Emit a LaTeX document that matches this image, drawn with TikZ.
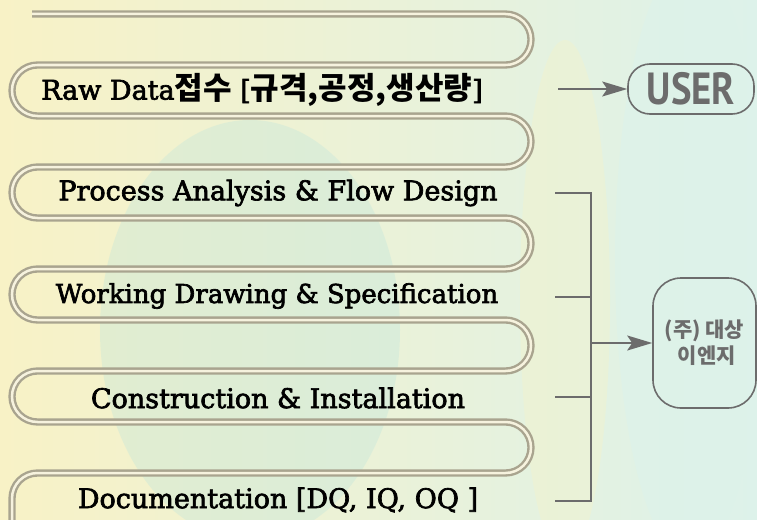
\documentclass[tikz,border=0pt]{standalone}
\usepackage{fontspec}
\setmainfont{DejaVu Serif}
\newfontfamily\stepfont[FakeBold=2.5]{DejaVu Serif}
\newfontfamily\krfont{Noto Sans CJK KR}
\newfontfamily\tagfont{PT Sans}
\usetikzlibrary{arrows.meta}
\definecolor{bgyellow}{HTML}{F8F2C6}
\definecolor{bgmint}{HTML}{DDF2EA}
\definecolor{bgcyan}{HTML}{BFE6DC}
\definecolor{ribbonshade}{HTML}{A9A48F}
\definecolor{ribbonlight}{HTML}{F6F2DE}
\definecolor{taggray}{HTML}{6C6C6C}
\tikzset{
  steptext/.style={font=\stepfont\fontsize{27}{30}\selectfont, text=black, inner sep=0pt},
  tagbox/.style={draw=taggray, line width=1.6pt, text=taggray, align=center, inner sep=0pt},
  link/.style={taggray, line width=1.8pt},
  linkarrow/.style={link, -{Stealth[length=25pt,width=15pt,inset=5pt]}}
}
\begin{document}
\begin{tikzpicture}[x=1pt,y=-1pt]
        \useasboundingbox (0,0) rectangle (757,519);
        \clip (0,0) rectangle (757,519);
        % background
        \shade[left color=bgyellow, right color=bgmint] (0,0) rectangle (757,519);
        \fill[bgcyan, opacity=.35] (250,330) ellipse (150pt and 210pt);
        \fill[bgyellow, opacity=.35] (565,300) ellipse (45pt and 260pt);
        \fill[bgmint, opacity=.7] (690,260) ellipse (75pt and 300pt);
        % ribbon
        \draw[draw=ribbonshade, double=ribbonlight, double distance=2.5pt, line width=2.4pt, rounded corners=25.5pt]
          (32,14) -- (531,14) -- (531,65) -- (12,65) -- (12,116) -- (531,116) -- (531,167)
          -- (12,167) -- (12,218) -- (531,218) -- (531,269) -- (12,269) -- (12,320)
          -- (531,320) -- (531,371) -- (12,371) -- (12,422) -- (531,422) -- (531,473)
          -- (12,473) -- (12,560);
        % steps
        \node[steptext] (raw) at (262,90) {Raw Data{\krfont\bfseries\fontsize{31}{32}\selectfont 접수} [{\krfont\bfseries\fontsize{31}{32}\selectfont 규격,공정,생산량}]};
        \node[steptext] (process) at (278,193) {Process Analysis \& Flow Design};
        \node[steptext, font=\stepfont\fontsize{26}{30}\selectfont] (working) at (277,296) {Working Drawing \& Specification};
        \node[steptext] (construct) at (278,398) {Construction \& Installation};
        \node[steptext] (docu) at (278,500) {Documentation [DQ, IQ, OQ ]};
        % targets
        \node[tagbox, rounded corners=22pt, minimum width=126pt, minimum height=50pt,
              font=\tagfont\bfseries\fontsize{45}{46}\selectfont] (user) at (691,89) {\scalebox{0.86}[1]{USER}};
        \node[tagbox, rounded corners=28pt, minimum width=103pt, minimum height=130pt,
              font=\krfont\bfseries\fontsize{21}{26}\selectfont] (company) at (704.5,343) {(주) 대상\\\ 이엔지};
        % connectors
        \coordinate (rawend) at (558,89);
        \draw[linkarrow] (rawend) -- (rawend -| user.west);
        \coordinate (t1) at (555,193);
        \coordinate (t2) at (555,297);
        \coordinate (t3) at (555,397);
        \coordinate (t4) at (555,501);
        \coordinate (b1) at (591,193);
        \coordinate (b4) at (591,501);
        \draw[link] (t1) -- (b1) -- (b4) -- (t4);
        \draw[link] (t2) -- (t2 -| b1);
        \draw[link] (t3) -- (t3 -| b1);
        \draw[linkarrow] (b1 |- company) -- (company.west);
      \end{tikzpicture}
\end{document}
